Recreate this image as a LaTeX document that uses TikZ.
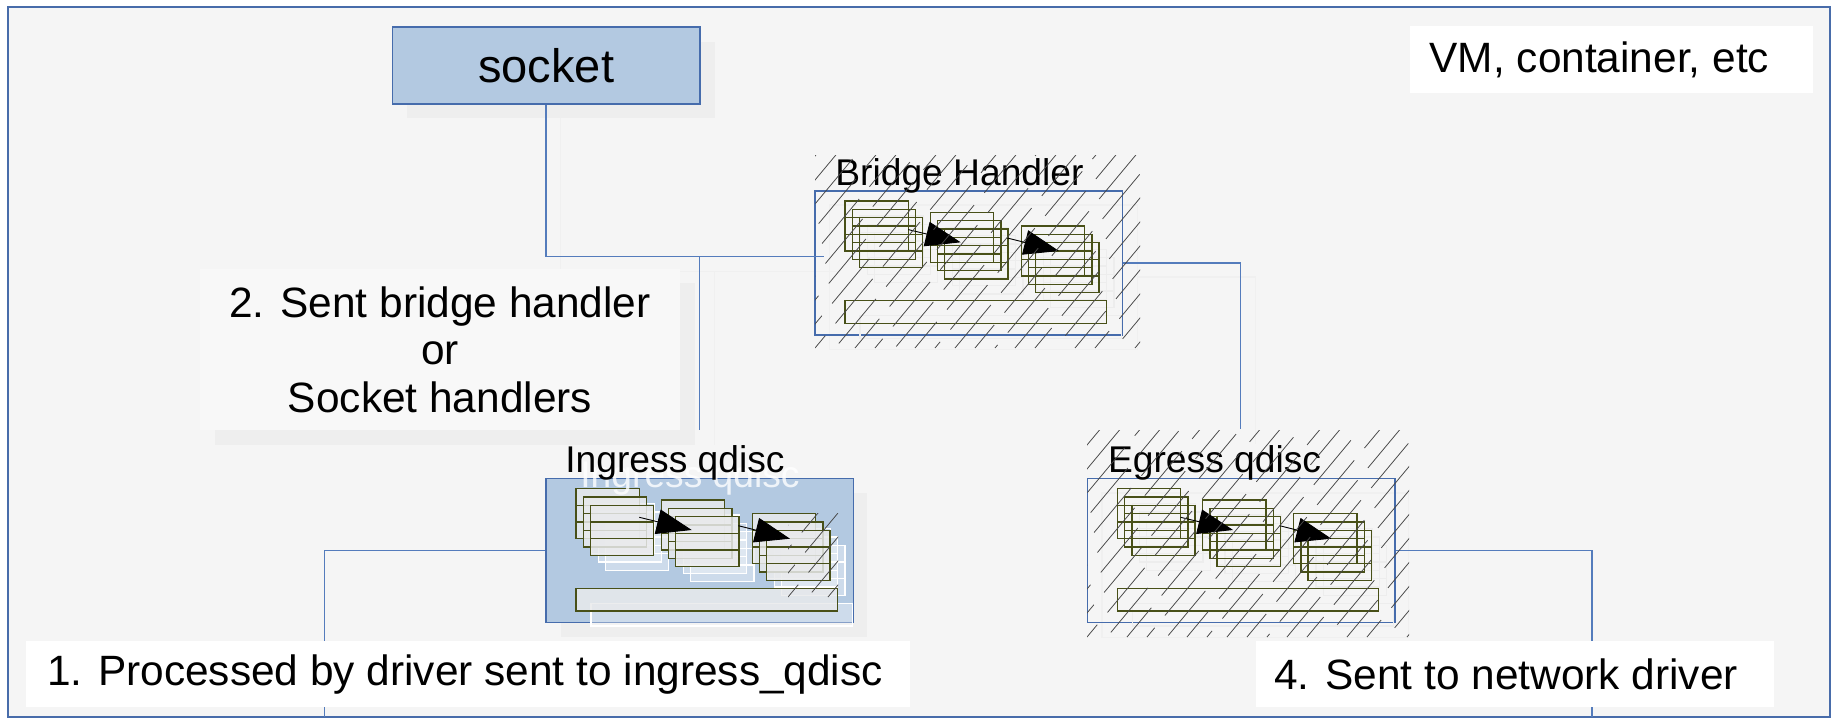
\documentclass[tikz,border=0pt]{standalone}
\usepackage{fontspec}
\setmainfont{Liberation Sans}
\usetikzlibrary{arrows.meta}

\definecolor{pagebg}{RGB}{245,245,245}
\definecolor{frameblue}{RGB}{72,108,170}
\definecolor{linkblue}{RGB}{84,124,188}
\definecolor{boxblue}{RGB}{179,201,225}
\definecolor{boxedge}{RGB}{70,108,172}
\definecolor{stackolive}{RGB}{72,80,24}
\definecolor{rectgray}{RGB}{233,234,236}
\definecolor{shadowgray}{RGB}{238,238,238}
\definecolor{labelbg}{RGB}{248,248,248}

\newcommand\fsocket{\fontsize{23.5}{28}\selectfont}
\newcommand\fgroup{\fontsize{18.6}{22}\selectfont}
\newcommand\flabel{\fontsize{21.2}{23.75}\selectfont}

\tikzset{
  conn/.style={draw=linkblue, line width=0.75pt},
  connshadow/.style={draw=black!6, line width=0.75pt},
  stackrect/.style={draw=stackolive, line width=0.7pt},
  stackrow/.style={draw=stackolive, line width=0.7pt},
  flowarrow/.style={draw=black, line width=0.45pt, -{Triangle[length=17.5pt,width=12.5pt]}},
  hatchline/.style={draw=black!72, line width=0.38pt},
  groupbox/.style={draw=boxedge, line width=0.75pt, rectangle, inner sep=0pt,
    anchor=north west, minimum width=153.7pt, minimum height=72pt},
  grouplabel/.style={anchor=base west, inner sep=0pt, font=\fgroup},
  whitebox/.style={fill=white, draw=none, rectangle, inner ysep=0pt,
    minimum height=33.15pt, anchor=west, font=\flabel},
}

% one queue: three stacked frames, each split into three rows
\newcommand\qstack[2]{%
  \foreach \k in {0,1,2}{%
    \pgfmathsetmacro\ox{#1+7.2*\k}%
    \pgfmathsetmacro\oy{#2+8.3*\k}%
    \draw[stackrect] (\ox,\oy) rectangle ++(63.3,50);
    \draw[stackrow] (\ox,\oy+16.7) -- ++(63.3,0) (\ox,\oy+33.3) -- ++(63.3,0);
  }}

% contents of a qdisc / handler block, in block-local coordinates
\newcommand\qinner[1]{%
  \qstack{30.7}{11}\qstack{116}{22.3}\qstack{207}{36}
  \draw[stackrect] (30.7,110.7) rectangle (292,133.3);
  \coordinate (#1a) at (94,39.6);  \coordinate (#1b) at (146.4,52.3);
  \coordinate (#1c) at (193,48);   \coordinate (#1d) at (244.7,61);
  \draw[flowarrow] (#1a) -- (#1b);
  \draw[flowarrow] (#1c) -- (#1d);
}

% broken diagonal hatching over a rectangle
\newcommand\hatch[4]{%
  \begin{scope}
    \clip (#1,#2) rectangle (#3,#4);
    \foreach \i in {0,...,32}{%
      \pgfmathsetmacro\ph{mod(\i*13,37)}%
      \draw[hatchline, dash pattern=on 29pt off 8pt, dash phase=\ph pt]
        ({#1-260+\i*20},#4) -- ++(300,-360);
    }
  \end{scope}}

\begin{document}
\begin{tikzpicture}[x=0.5pt,y=-0.5pt]
\useasboundingbox (0,0) rectangle (1833,718);
\fill[white] (0,0) rectangle (1833,718);
\filldraw[fill=pagebg, draw=frameblue, line width=1pt] (7.5,7) rectangle (1830,717);

% ---- drop shadows ----
\fill[shadowgray] (406.7,41.7) rectangle (714.7,118.3);
\fill[shadowgray] (215,283.3) rectangle (695,445);
\fill[shadowgray] (561,493.3) rectangle (867.3,637.3);
\draw[black!6, line width=0.6pt] (829.3,205) rectangle (1137.3,349.3);
\draw[black!6, line width=0.6pt] (1102,493) rectangle (1408.5,637.3);
\draw[connshadow] (560.7,118.3) |- (839,271.7);
\draw[connshadow] (714.3,271.7) -- (714.3,445);
\draw[connshadow] (1136.7,277) -| (1255.7,444.3);

% ---- blocks ----
\node[groupbox, fill=boxblue, minimum height=38.5pt, font=\fsocket] (socket) at (391.7,26.3) {socket};
\node[groupbox] (bridge) at (814.3,190) {};
\node[groupbox, fill=boxblue] (ingress) at (545.3,477.7) {};
\node[groupbox] (egress) at (1086.7,477.7) {};

% ---- connectors ----
\coordinate (bjoin) at (824,256.7);
\coordinate (tee) at (699.3,256.7);
\coordinate (ingtop) at (699.3,430);
\coordinate (egtop) at (1240.7,429.3);
\coordinate (drvin) at (324.5,717);
\coordinate (netout) at (1592,717);
\draw[conn] (socket.south) |- (bjoin);
\draw[conn] (tee) -- (ingtop);
\draw[conn] (bridge.east) -| (egtop);
\draw[conn] (ingress.west) -| (drvin);
\draw[conn] (egress.east) -| (netout);

% ---- note on the left ----
\node[fill=labelbg, minimum width=240pt, minimum height=80.35pt, align=center,
  font=\flabel, inner sep=0pt] (note) at (440,349.7)
  {2. Sent bridge handler\\or\\Socket handlers};

% ---- bridge handler ----
\begin{scope}[shift={(829.3,205)}, stackrect/.style={draw=black!7, line width=0.6pt},
    stackrow/.style={draw=black!7, line width=0.6pt}, flowarrow/.style={draw=none}]
  \qinner{bs}
\end{scope}
\begin{scope}[shift={(814.3,190)}]
  \qinner{br}
\end{scope}
\node[grouplabel] (bridgelbl) at (835,185) {Bridge Handler};
\hatch{815}{155}{1140}{348}

% ---- ingress qdisc ----
\begin{scope}[shift={(560.3,492.7)},
    stackrect/.style={draw=white, fill=white, fill opacity=0.35, line width=0.6pt},
    stackrow/.style={draw=white, line width=0.6pt}, flowarrow/.style={draw=none}]
  \qinner{is}
\end{scope}
\begin{scope}[shift={(545.3,477.7)},
    stackrect/.append style={fill=rectgray, fill opacity=0.85}]
  \qinner{in}
\end{scope}
\hatch{788}{513}{838}{597}
\node[grouplabel, text=white, text opacity=0.8] (ingressghost) at (580,487.7) {Ingress qdisc};
\node[grouplabel] (ingresslbl) at (565,472.7) {Ingress qdisc};

% ---- egress qdisc ----
\begin{scope}[shift={(1101.7,492.7)}, stackrect/.style={draw=black!7, line width=0.6pt},
    stackrow/.style={draw=black!7, line width=0.6pt}, flowarrow/.style={draw=none}]
  \qinner{es}
\end{scope}
\begin{scope}[shift={(1086.7,477.7)}]
  \qinner{eg}
\end{scope}
\node[grouplabel] (egresslbl) at (1107.7,472.7) {Egress qdisc};
\hatch{1087}{430}{1409}{637}

% ---- caption boxes ----
\node[whitebox, inner xsep=9.65pt] (vm) at (1410,59.5)
  {\makebox[182.05pt][l]{VM, container, etc}};
\node[whitebox, inner xsep=10.5pt] (step1) at (25.7,674.2)
  {\makebox[420.85pt][l]{1. Processed by driver sent to ingress\_qdisc}};
\node[whitebox, inner xsep=9.3pt] (step4) at (1255.4,674.2)
  {\makebox[240.35pt][l]{4. Sent to network driver}};
\end{tikzpicture}
\end{document}
